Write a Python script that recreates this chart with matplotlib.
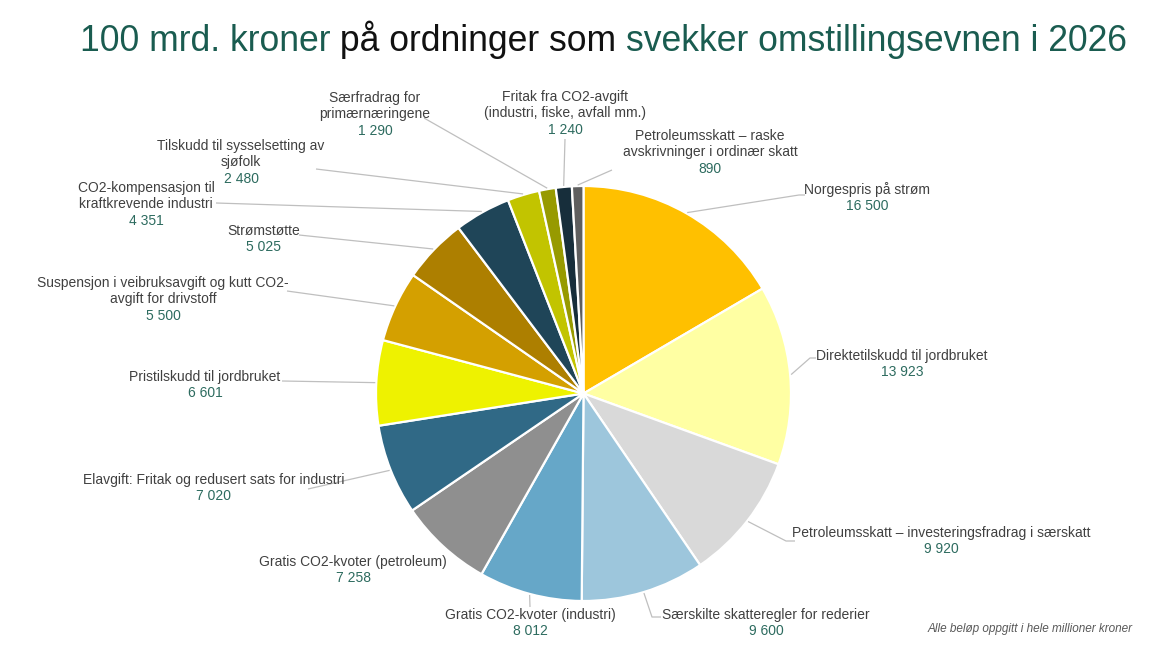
import numpy as np
import matplotlib
matplotlib.use("Agg")
import matplotlib.pyplot as plt

plt.rcParams['font.family'] = ['Liberation Sans', 'DejaVu Sans']

# ---------------- data ----------------
labels = [
    "Norgespris på strøm",
    "Direktetilskudd til jordbruket",
    "Petroleumsskatt – investeringsfradrag i særskatt",
    "Særskilte skatteregler for rederier",
    "Gratis CO2-kvoter (industri)",
    "Gratis CO2-kvoter (petroleum)",
    "Elavgift: Fritak og redusert sats for industri",
    "Pristilskudd til jordbruket",
    "Suspensjon i veibruksavgift og kutt CO2-\navgift for drivstoff",
    "Strømstøtte",
    "CO2-kompensasjon til\nkraftkrevende industri",
    "Tilskudd til sysselsetting av\nsjøfolk",
    "Særfradrag for\nprimærnæringene",
    "Fritak fra CO2-avgift\n(industri, fiske, avfall mm.)",
    "Petroleumsskatt – raske\navskrivninger i ordinær skatt",
]
values = [16500, 13923, 9920, 9600, 8012, 7258, 7020, 6601, 5500, 5025,
          4351, 2480, 1290, 1240, 890]
colors = ["#FFC000", "#FFFFA3", "#D9D9D9", "#9DC6DC", "#66A7C8", "#8F8F8F",
          "#306986", "#EEF200", "#D4A000", "#AD7F00", "#1F4558", "#C2C400",
          "#979A00", "#172E3B", "#5F5F5F"]
title_parts = ["100 mrd. kroner", " på ordninger som ",
               "svekker omstillingsevnen i 2026"]
footnote = "Alle beløp oppgitt i hele millioner kroner"

# ---------------- layout (pixel coordinates, y from top) ----------------
W, H = 1160, 657
CX, CY, R = 583.5, 393.5, 207.5
# label centre x, first-line centre y, leader end, optional elbow
label_layout = [
    (867, 190, (805, 195), (799, 195)),
    (902, 356, (816, 358), (810, 358)),
    (941, 533, (795, 541), (786, 541)),
    (766, 615, (661, 617), (652, 617)),
    (530, 615, (530, 607), None),
    (353, 562, None, None),
    (214, 480, (308, 489), None),
    (205, 377, (282, 381), None),
    (163, 283, (287, 291), None),
    (264, 231, (299, 235), None),
    (146, 188, (216, 203), None),
    (241, 146, (316, 169), None),
    (375, 98, (424, 118), None),
    (565, 97, (565, 139), None),
    (710, 136, (612, 170), None),
]
LINE = 16.3
TEXT_COL = "#404040"
NUM_COL = "#2D6B5F"
TITLE_COL = "#1A5C50"


def P(x, y):
    return x, H - y


fig = plt.figure(figsize=(W / 100, H / 100), dpi=100)
ax = fig.add_axes([0, 0, 1, 1])

wedges, _ = ax.pie(values, colors=colors, startangle=90, counterclock=False,
                   center=P(CX, CY), radius=R,
                   wedgeprops=dict(edgecolor="white", linewidth=1.6))
ax.set_xlim(0, W)
ax.set_ylim(0, H)
ax.set_aspect("auto")
ax.axis("off")

for w, lab, val, lay in zip(wedges, labels, values, label_layout):
    cx, y0, end, elbow = lay
    nlines = lab.count("\n") + 1
    for i, line in enumerate(lab.split("\n")):
        ax.text(*P(cx, y0 + i * LINE), line, ha="center", va="center",
                fontsize=10, color=TEXT_COL)
    num = f"{val:,}".replace(",", " ")
    ax.text(*P(cx, y0 + nlines * LINE), num, ha="center", va="center",
            fontsize=10, color=NUM_COL)
    if end is not None:
        mid = np.deg2rad((w.theta1 + w.theta2) / 2)
        wx = w.center[0] + (R + 1) * np.cos(mid)
        wy = w.center[1] + (R + 1) * np.sin(mid)
        pts = [(wx, wy)]
        if elbow is not None:
            pts.append(P(*elbow))
        pts.append(P(*end))
        xs, ys = zip(*pts)
        ax.plot(xs, ys, color="#BFBFBF", linewidth=0.9, solid_capstyle="butt")

# title with coloured parts, scaled to span reference width
fig.canvas.draw()
renderer = fig.canvas.get_renderer()
size = 28
probe = ax.text(0, 0, "".join(title_parts), fontsize=size)
tw = probe.get_window_extent(renderer).width
probe.remove()
size = size * 1048 / tw
x = 80
tcols = [TITLE_COL, "#111111", TITLE_COL]
for part, col in zip(title_parts, tcols):
    t = ax.text(*P(x, 51), part, fontsize=size, color=col, ha="left",
                va="baseline")
    bb = t.get_window_extent(renderer)
    x += bb.width

ax.text(*P(1133, 629), footnote, ha="right", va="center", fontsize=8.5,
        style="italic", color="#595959")

fig.savefig("out.png", dpi=100)
